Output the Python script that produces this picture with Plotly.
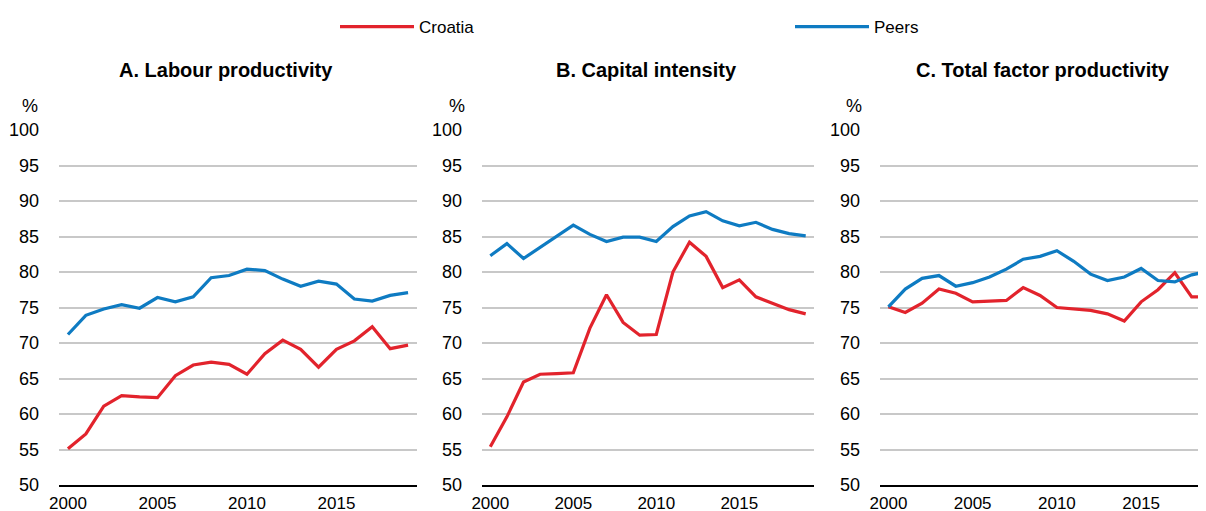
import plotly.graph_objects as go

years = list(range(2000, 2020))

croatia_labour = [55.1, 57.2, 61.1, 62.6, 62.4, 62.3, 65.4, 66.9, 67.3, 67.0,
                  65.6, 68.5, 70.4, 69.1, 66.6, 69.1, 70.3, 72.3, 69.2, 69.7]
peers_labour = [71.2, 73.9, 74.8, 75.4, 74.9, 76.4, 75.8, 76.5, 79.2, 79.5,
                80.4, 80.2, 79.0, 78.0, 78.7, 78.3, 76.2, 75.9, 76.7, 77.1]

croatia_capital = [55.4, 59.6, 64.5, 65.6, 65.7, 65.8, 72.1, 76.8, 72.9, 71.1,
                   71.2, 80.0, 84.2, 82.2, 77.8, 78.9, 76.5, 75.6, 74.7, 74.1]
peers_capital = [82.3, 84.0, 81.9, 83.5, 85.1, 86.6, 85.3, 84.3, 84.9, 84.9,
                 84.3, 86.4, 87.9, 88.5, 87.2, 86.5, 87.0, 86.0, 85.4, 85.1]

croatia_tfp = [75.1, 74.3, 75.6, 77.6, 77.0, 75.8, 75.9, 76.0, 77.8, 76.7,
               75.0, 74.8, 74.6, 74.1, 73.1, 75.8, 77.5, 79.9, 76.5, 76.5]
peers_tfp = [75.1, 77.6, 79.1, 79.5, 78.0, 78.5, 79.3, 80.4, 81.8, 82.2,
             83.0, 81.5, 79.7, 78.8, 79.3, 80.5, 78.8, 78.6, 79.6, 80.1]

panel_titles = ["A. Labour productivity", "B. Capital intensity", "C. Total factor productivity"]
y_ticks = [50, 55, 60, 65, 70, 75, 80, 85, 90, 95, 100]
x_label_years = [2000, 2005, 2010, 2015]
x_tick_marks = [y - 0.5 for y in range(2000, 2021)]  # tick marks between years

RED = "#E2232C"
BLUE = "#0E7BC2"
FONT = "Liberation Sans, Arial, sans-serif"

W, H = 1206, 511
OFF = 8  # page body margin offset compensation
# pixel geometry of the three panels (screen coordinates)
x_px = [(59, 417), (482, 814), (880, 1206)]
x_ranges = [[1999.5, 2019.5], [1999.5, 2019.5], [1999.5, 2018.85]]
y_top, y_bot = 130, 485
title_cx = [226, 646, 1043]
title_cy = 70
pct_cx = [30, 457, 854]
pct_cy = 106


def px_x(v):
    return (v - OFF) / W


def px_y(v):
    return 1 - (v - OFF) / H


fig = go.Figure()

data = [(croatia_labour, peers_labour), (croatia_capital, peers_capital), (croatia_tfp, peers_tfp)]
for i, (cro, peer) in enumerate(data):
    sfx = "" if i == 0 else str(i + 1)
    fig.add_trace(go.Scatter(x=years, y=cro, mode="lines", name="Croatia",
                             line=dict(color=RED, width=3.2), xaxis="x" + sfx, yaxis="y" + sfx,
                             showlegend=(i == 0), legendrank=1))
    fig.add_trace(go.Scatter(x=years, y=peer, mode="lines", name="Peers",
                             line=dict(color=BLUE, width=3.2), xaxis="x" + sfx, yaxis="y" + sfx,
                             showlegend=(i == 0), legendrank=2))

layout = dict(
    width=W, height=H,
    margin=dict(l=0, r=0, t=0, b=0, autoexpand=False),
    paper_bgcolor="white", plot_bgcolor="white",
    font=dict(family=FONT, size=17, color="black"),
    legend=dict(orientation="h", x=px_x(335), y=px_y(9), xanchor="left", yanchor="top",
                itemwidth=74, entrywidth=366, entrywidthmode="pixels",
                font=dict(size=17), bgcolor="rgba(0,0,0,0)"),
)
annotations = []
for i in range(3):
    sfx = "" if i == 0 else str(i + 1)
    x0, x1 = x_px[i]
    dom = [px_x(x0), min(1.0, px_x(x1))]
    layout["xaxis" + sfx] = dict(
        domain=dom, range=x_ranges[i], anchor="y" + sfx, automargin=False,
        tickvals=x_label_years, ticktext=[str(v) for v in x_label_years],
        ticks="", showgrid=False, zeroline=False, ticklabelstandoff=2,
        showline=True, linecolor="black", linewidth=1.5,
        tickfont=dict(size=17),
    )
    # overlay axis carrying the between-year tick marks
    layout["xaxis" + str(i + 4)] = dict(
        domain=dom, range=x_ranges[i], anchor="y" + sfx, overlaying="x" + sfx, side="bottom",
        automargin=False, tickvals=x_tick_marks, ticks="inside", ticklen=6, tickwidth=1.5,
        tickcolor="black", showticklabels=False, showgrid=False, zeroline=False, showline=False,
    )
    layout["yaxis" + sfx] = dict(
        domain=[px_y(y_bot), px_y(y_top)], range=[50, 100], anchor="x" + sfx, automargin=False,
        tickvals=y_ticks, showgrid=True, gridcolor="#C8C8C8", gridwidth=1.5,
        zeroline=False, showline=False, ticks="", ticklabelstandoff=19,
        tickfont=dict(size=18),
    )
    annotations.append(dict(text="<b>" + panel_titles[i] + "</b>", x=px_x(title_cx[i]), y=px_y(title_cy),
                            xref="paper", yref="paper", showarrow=False, xanchor="center",
                            yanchor="middle", font=dict(size=20)))
    annotations.append(dict(text="%", x=px_x(pct_cx[i]), y=px_y(pct_cy), xref="paper", yref="paper",
                            showarrow=False, xanchor="center", yanchor="middle", font=dict(size=18)))
layout["annotations"] = annotations
fig.update_layout(**layout)

fig.write_html("out.html")
